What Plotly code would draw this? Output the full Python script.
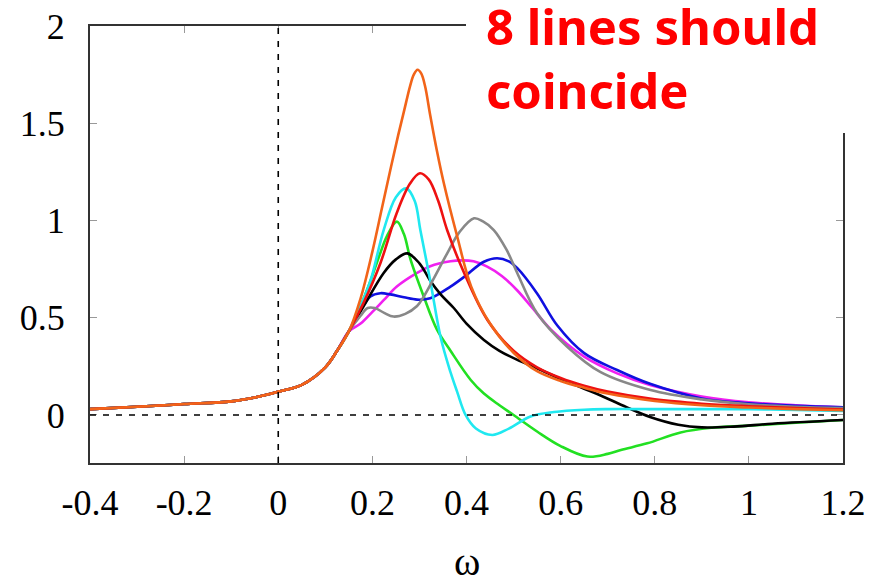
import plotly.graph_objects as go

# shared low-frequency part (all curves coincide here)
x_common = [-0.4, -0.3, -0.2, -0.1, -0.05, 0.0, 0.05, 0.1, 0.125, 0.15]
y_common = [0.03, 0.042, 0.056, 0.07, 0.09, 0.12, 0.155, 0.245, 0.33, 0.43]

x_magenta = [0.175, 0.2, 0.224, 0.252, 0.295, 0.323, 0.366, 0.39, 0.415, 0.444, 0.475, 0.508, 0.54, 0.579, 0.65, 0.72, 0.79, 0.9, 1.0, 1.1, 1.2]
y_magenta = [0.47, 0.53, 0.59, 0.66, 0.73, 0.765, 0.79, 0.795, 0.79, 0.763, 0.715, 0.64, 0.55, 0.44, 0.3, 0.214, 0.154, 0.095, 0.065, 0.05, 0.04]

x_green = [0.175, 0.196, 0.215, 0.231, 0.252, 0.267, 0.281, 0.309, 0.337, 0.366, 0.409, 0.437, 0.47, 0.5, 0.55, 0.6, 0.657, 0.7, 0.728, 0.784, 0.855, 0.92, 1.0, 1.1, 1.2]
y_green = [0.56, 0.69, 0.82, 0.92, 0.994, 0.93, 0.8, 0.61, 0.44, 0.33, 0.18, 0.11, 0.05, 0.0, -0.085, -0.16, -0.214, -0.2, -0.18, -0.146, -0.09, -0.066, -0.055, -0.04, -0.026]

x_blue = [0.175, 0.196, 0.217, 0.238, 0.267, 0.295, 0.323, 0.366, 0.395, 0.437, 0.465, 0.49, 0.508, 0.55, 0.593, 0.65, 0.72, 0.79, 0.9, 1.0, 1.1, 1.2]
y_blue = [0.54, 0.61, 0.626, 0.62, 0.605, 0.593, 0.6, 0.66, 0.71, 0.788, 0.806, 0.79, 0.755, 0.625, 0.46, 0.318, 0.231, 0.16, 0.085, 0.06, 0.047, 0.04]

x_black = [0.181, 0.224, 0.25, 0.274, 0.3, 0.323, 0.345, 0.373, 0.4, 0.437, 0.47, 0.508, 0.55, 0.6, 0.65, 0.685, 0.74, 0.79, 0.85, 0.9, 0.968, 1.05, 1.2]
y_black = [0.557, 0.73, 0.8, 0.831, 0.78, 0.69, 0.62, 0.55, 0.47, 0.386, 0.33, 0.283, 0.24, 0.185, 0.135, 0.1, 0.04, -0.01, -0.05, -0.064, -0.06, -0.045, -0.026]

x_cyan = [0.175, 0.196, 0.224, 0.25, 0.272, 0.29, 0.302, 0.323, 0.345, 0.366, 0.38, 0.398, 0.42, 0.455, 0.49, 0.536, 0.586, 0.65, 0.7, 0.8, 0.9, 1.0, 1.1, 1.2]
y_cyan = [0.56, 0.69, 0.95, 1.12, 1.165, 1.1, 0.95, 0.69, 0.4, 0.22, 0.12, 0.0, -0.07, -0.103, -0.07, -0.008, 0.015, 0.027, 0.03, 0.03, 0.03, 0.029, 0.026, 0.02]

x_gray = [0.175, 0.19, 0.205, 0.225, 0.245, 0.27, 0.295, 0.309, 0.33, 0.359, 0.385, 0.416, 0.435, 0.458, 0.485, 0.508, 0.55, 0.614, 0.685, 0.791, 0.9, 1.0, 1.1, 1.2]
y_gray = [0.51, 0.55, 0.55, 0.525, 0.506, 0.52, 0.56, 0.608, 0.7, 0.831, 0.94, 1.011, 0.995, 0.951, 0.85, 0.729, 0.523, 0.351, 0.22, 0.128, 0.08, 0.055, 0.042, 0.035]

x_red = [0.181, 0.217, 0.252, 0.28, 0.301, 0.32, 0.34, 0.359, 0.395, 0.444, 0.5, 0.55, 0.6, 0.65, 0.7, 0.8, 0.9, 1.0, 1.1, 1.2]
y_red = [0.575, 0.78, 1.04, 1.19, 1.243, 1.21, 1.1, 0.95, 0.73, 0.49, 0.33, 0.245, 0.19, 0.15, 0.12, 0.08, 0.058, 0.045, 0.035, 0.028]

x_orange = [0.175, 0.2, 0.22, 0.24, 0.255, 0.268, 0.28, 0.288, 0.296, 0.304, 0.312, 0.323, 0.337, 0.352, 0.38, 0.41, 0.45, 0.5, 0.55, 0.6, 0.65, 0.7, 0.8, 0.9, 1.0, 1.1, 1.2]
y_orange = [0.6, 0.84, 1.06, 1.28, 1.44, 1.57, 1.69, 1.75, 1.775, 1.755, 1.69, 1.54, 1.36, 1.19, 0.92, 0.66, 0.47, 0.32, 0.225, 0.175, 0.14, 0.11, 0.072, 0.05, 0.038, 0.03, 0.024]

x_ticks = [-0.4, -0.2, 0, 0.2, 0.4, 0.6, 0.8, 1, 1.2]
x_tick_text = ["-0.4", "-0.2", "0", "0.2", "0.4", "0.6", "0.8", "1", "1.2"]
y_ticks = [0, 0.5, 1, 1.5, 2]
y_tick_text = ["0", "0.5", "1", "1.5", "2"]

series = [
    ("magenta", x_magenta, y_magenta, "#f020f0"),
    ("green", x_green, y_green, "#22e022"),
    ("blue", x_blue, y_blue, "#1010e0"),
    ("black", x_black, y_black, "#000000"),
    ("cyan", x_cyan, y_cyan, "#20e8f0"),
    ("gray", x_gray, y_gray, "#888888"),
    ("red", x_red, y_red, "#ee1111"),
    ("orange", x_orange, y_orange, "#f26419"),
]

W, H = 870, 568
ML, MR, MT, MB = 82, 35, 18, 113
PW = W - ML - MR
PH = H - MT - MB

def px(fx):
    return (fx - ML) / PW

def py(fy):
    return (H - MB - fy) / PH

fig = go.Figure()
for name, xs, ys, col in series:
    fig.add_trace(go.Scatter(
        x=x_common + xs, y=y_common + ys, mode="lines", name=name,
        line=dict(color=col, width=2.6, shape="spline", smoothing=1.0),
        showlegend=False,
    ))

# dashed reference lines
fig.add_shape(type="line", xref="x", yref="paper", x0=0, x1=0, y0=0, y1=1,
              line=dict(color="black", width=1.6, dash="6px,7px"), layer="above")
fig.add_shape(type="line", xref="paper", yref="y", x0=0, x1=1, y0=0, y1=0,
              line=dict(color="black", width=1.6, dash="6px,7px"), layer="above")

# white box behind the note (hides top-right part of the frame)
fig.add_shape(type="rect", xref="paper", yref="paper",
              x0=px(458), x1=1.1, y0=py(125), y1=1.2,
              fillcolor="white", line=dict(width=0), layer="above")

fig.add_annotation(text="8 lines should<br>coincide", xref="paper", yref="paper",
                   x=px(476), y=py(-17), xanchor="left", yanchor="top",
                   showarrow=False, align="left",
                   font=dict(family="Noto Sans", size=49, color="#ff0000", weight="bold"))

fig.add_annotation(text="ω", xref="paper", yref="paper", x=0.5, y=py(553),
                   xanchor="center", yanchor="middle", showarrow=False,
                   font=dict(family="Liberation Serif", size=40, color="black"))

axis_common = dict(showgrid=False, zeroline=False, showline=True, linecolor="#333333",
                   linewidth=2, ticks="inside", ticklen=7, tickcolor="#999999", tickwidth=1,
                   ticklabeloverflow="allow",
                   tickfont=dict(family="Liberation Serif", size=36, color="black"))

fig.update_xaxes(range=[-0.4, 1.2], tickvals=x_ticks, ticktext=x_tick_text,
                 mirror="ticks", ticklabelstandoff=7, **axis_common)
fig.update_yaxes(range=[-0.247, 2.0], tickvals=y_ticks, ticktext=y_tick_text,
                 mirror="ticks", ticklabelstandoff=16, **axis_common)

fig.update_layout(width=W, height=H, margin=dict(l=ML, r=MR, t=MT, b=MB, autoexpand=False),
                  plot_bgcolor="white", paper_bgcolor="white")

fig.write_html("out.html")
